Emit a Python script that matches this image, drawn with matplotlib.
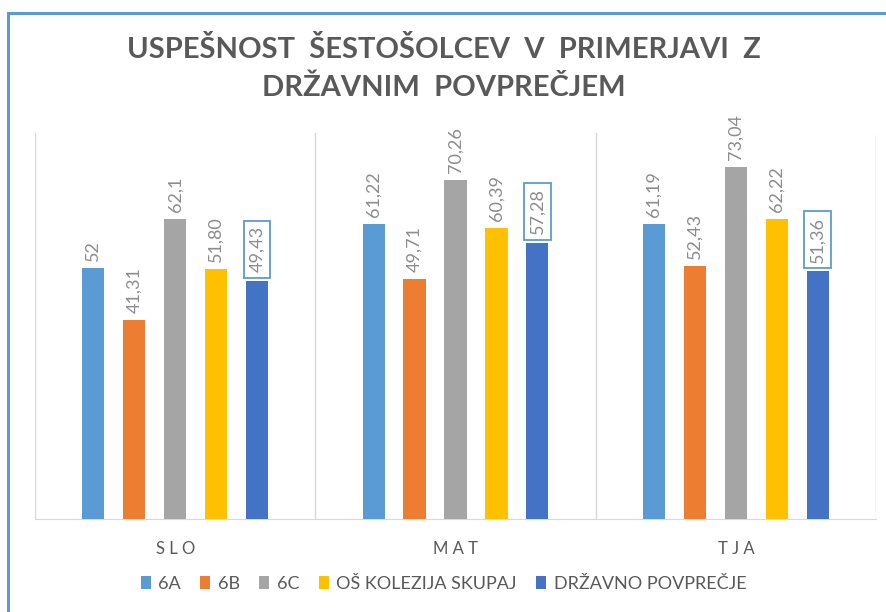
import matplotlib.pyplot as plt
import matplotlib.patches as patches
import numpy as np

# podatki
kategorije = ["SLO", "MAT", "TJA"]
serije = ["6A", "6B", "6C", "OŠ KOLEZIJA SKUPAJ", "DRŽAVNO POVPREČJE"]
vrednosti_6a = [52, 61.22, 61.19]
vrednosti_6b = [41.31, 49.71, 52.43]
vrednosti_6c = [62.1, 70.26, 73.04]
vrednosti_skupaj = [51.80, 60.39, 62.22]
vrednosti_drzava = [49.43, 57.28, 51.36]
oznake_6a = ["52", "61,22", "61,19"]
oznake_6b = ["41,31", "49,71", "52,43"]
oznake_6c = ["62,1", "70,26", "73,04"]
oznake_skupaj = ["51,80", "60,39", "62,22"]
oznake_drzava = ["49,43", "57,28", "51,36"]

barve = ["#5B9BD5", "#ED7D31", "#A5A5A5", "#FFC000", "#4472C4"]
vse = [vrednosti_6a, vrednosti_6b, vrednosti_6c, vrednosti_skupaj, vrednosti_drzava]
oznake = [oznake_6a, oznake_6b, oznake_6c, oznake_skupaj, oznake_drzava]

plt.rcParams['font.family'] = ['Lato', 'DejaVu Sans']

fig = plt.figure(figsize=(8.87, 6.12), dpi=100)
W, H = 887, 612

# modri okvir grafa (odrezan desno in spodaj)
okvir = patches.Rectangle((8 / W, -0.1), 1.2, (612 - 13) / H + 0.1, transform=fig.transFigure,
                          fill=False, edgecolor="#5B9BD5", linewidth=2.2)
fig.patches.append(okvir)

ax = fig.add_axes([35 / W, (612 - 519) / H, (876 - 35) / W, (519 - 133) / H])

x = np.arange(len(kategorije))
sirina = 0.079
korak = 0.146
for i, (vals, lab) in enumerate(zip(vse, oznake)):
    pos = x + (i - 2) * korak
    ax.bar(pos, vals, width=sirina, color=barve[i], label=serije[i], zorder=3)
    for p, v, t in zip(pos, vals, lab):
        if i == 4:
            ax.annotate(t, (p, v), xytext=(0, 6), textcoords="offset points",
                        rotation=90, ha="center", va="bottom", fontsize=13, color="#8C8C8C",
                        bbox=dict(boxstyle="square,pad=0.3", fc="white", ec="#5B9BD5", lw=1.3))
        else:
            ax.annotate(t, (p, v), xytext=(0, 5), textcoords="offset points",
                        rotation=90, ha="center", va="bottom", fontsize=13, color="#8C8C8C")

ax.set_xlim(-0.5, 2.5)
ax.set_ylim(0, 80)
for g in [-0.5, 0.5, 1.5, 2.5]:
    ax.axvline(g, color="#D9D9D9", linewidth=1, zorder=1)
for s in ["top", "right", "left"]:
    ax.spines[s].set_visible(False)
ax.spines["bottom"].set_color("#D9D9D9")
ax.set_yticks([])
ax.set_xticks(x)
ax.set_xticklabels([" ".join(k) for k in kategorije], fontsize=12, color="#595959")
ax.tick_params(axis="x", length=0, pad=16)

fig.text(0.5, (612 - 50) / H, "USPEŠNOST  ŠESTOŠOLCEV  V  PRIMERJAVI  Z", ha="center", va="center",
         fontsize=21, fontweight="bold", color="#595959")
fig.text(0.5, (612 - 88) / H, "DRŽAVNIM  POVPREČJEM", ha="center", va="center",
         fontsize=21, fontweight="bold", color="#595959")

fig.legend(loc="center", bbox_to_anchor=(0.5, (612 - 584) / H), ncol=5, frameon=False,
           fontsize=13, handlelength=0.55, handleheight=0.7, handletextpad=0.4, columnspacing=1.1,
           labelcolor="#595959")

fig.savefig("out.png", dpi=100)
